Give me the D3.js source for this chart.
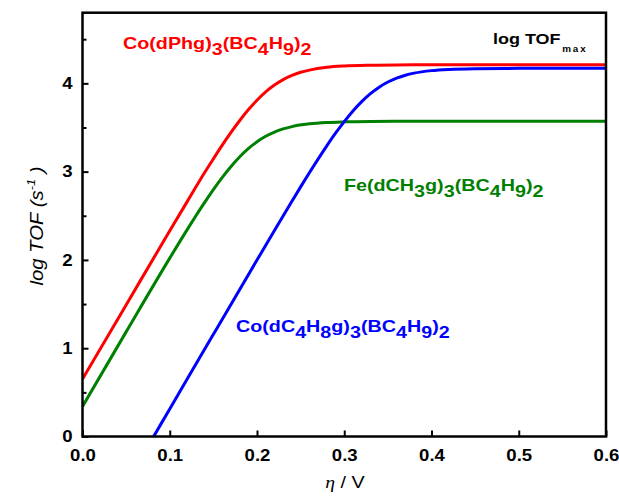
<!DOCTYPE html>
<html>
<head>
<meta charset="utf-8">
<script src="https://cdn.jsdelivr.net/npm/d3@7"></script>
<style>
  html, body { margin: 0; padding: 0; background: #fff; }
  svg { display: block; }
  text { font-family: "Liberation Sans", Arial, sans-serif; }
</style>
</head>
<body>
<svg id="chart" width="619" height="499"></svg>
<script>
// ---- data ----
const xTicks = [0.0, 0.1, 0.2, 0.3, 0.4, 0.5, 0.6];
const yTicks = [0, 1, 2, 3, 4];
const yMinorTicks = [0.5, 1.5, 2.5, 3.5, 4.5];

const redEta  = [0.00, 0.05, 0.10, 0.12, 0.14, 0.15, 0.16, 0.17, 0.18, 0.19, 0.20, 0.21, 0.22, 0.23, 0.24, 0.25, 0.26, 0.28, 0.30, 0.33, 0.36, 0.40, 0.50, 0.60];
const redLog  = [0.65, 1.49, 2.33, 2.66, 2.99, 3.145, 3.297, 3.441, 3.576, 3.70, 3.809, 3.903, 3.98, 4.042, 4.089, 4.125, 4.150, 4.182, 4.197, 4.206, 4.209, 4.21, 4.21, 4.21];

const greenEta = [0.00, 0.05, 0.10, 0.12, 0.13, 0.14, 0.15, 0.16, 0.17, 0.18, 0.19, 0.20, 0.21, 0.22, 0.23, 0.24, 0.26, 0.28, 0.30, 0.33, 0.40, 0.50, 0.60];
const greenLog = [0.34, 1.185, 2.02, 2.343, 2.50, 2.652, 2.797, 2.932, 3.056, 3.166, 3.26, 3.338, 3.40, 3.448, 3.484, 3.51, 3.541, 3.557, 3.564, 3.568, 3.57, 3.57, 3.57];

const blueEta = [0.08, 0.10, 0.15, 0.20, 0.22, 0.24, 0.25, 0.26, 0.27, 0.28, 0.29, 0.30, 0.31, 0.32, 0.33, 0.34, 0.35, 0.36, 0.37, 0.38, 0.40, 0.42, 0.45, 0.50, 0.60];
const blueLog = [-0.026, 0.312, 1.157, 1.999, 2.334, 2.664, 2.827, 2.987, 3.142, 3.292, 3.435, 3.567, 3.6875, 3.793, 3.883, 3.957, 4.015, 4.059, 4.092, 4.1155, 4.144, 4.158, 4.166, 4.1695, 4.17];

const seriesNames = ["red", "green", "blue"];
const seriesColors = { red: "#ff0000", green: "#008000", blue: "#0000ff" };

// ---- layout ----
const SX = 1.16; // horizontal stretch of the text in the reference
const svg = d3.select("#chart");
const x = d3.scaleLinear().domain([0, 0.6]).range([82.5, 606]);
const y = d3.scaleLinear().domain([0, 4.8]).range([436.5, 12.7]);

svg.append("defs").append("clipPath").attr("id", "plotclip")
  .append("rect")
  .attr("x", x(0)).attr("y", y(4.8))
  .attr("width", x(0.6) - x(0)).attr("height", y(0) - y(4.8));

const line = d3.line()
  .x(d => x(d[0]))
  .y(d => y(d[1]))
  .curve(d3.curveMonotoneX);

const seriesData = {
  red: d3.zip(redEta, redLog),
  green: d3.zip(greenEta, greenLog),
  blue: d3.zip(blueEta, blueLog)
};

const plot = svg.append("g").attr("clip-path", "url(#plotclip)");
seriesNames.forEach(name => {
  plot.append("path")
    .datum(seriesData[name])
    .attr("fill", "none")
    .attr("stroke", seriesColors[name])
    .attr("stroke-width", 3)
    .attr("d", line);
});

// ---- axes ----
const xAxis = d3.axisBottom(x)
  .tickValues(xTicks)
  .tickFormat(d3.format(".1f"))
  .tickSizeInner(-6)
  .tickSizeOuter(0)
  .tickPadding(13);

const gx = svg.append("g")
  .attr("transform", `translate(0,${y(0)})`)
  .call(xAxis);

const yAxis = d3.axisLeft(y)
  .tickValues(yTicks)
  .tickFormat(d3.format("d"))
  .tickSizeInner(-6)
  .tickSizeOuter(0)
  .tickPadding(10);

const gy = svg.append("g")
  .attr("transform", `translate(${x(0)},0)`)
  .call(yAxis);

const yMinor = d3.axisLeft(y)
  .tickValues(yMinorTicks)
  .tickFormat("")
  .tickSizeInner(-4)
  .tickSizeOuter(0);

svg.append("g")
  .attr("transform", `translate(${x(0)},0)`)
  .call(yMinor)
  .select(".domain").remove();

[gx, gy].forEach(g => {
  g.select(".domain").remove();
  g.selectAll(".tick text")
    .attr("fill", "#000")
    .style("font-family", '"Liberation Sans", Arial, sans-serif')
    .style("font-size", "16px")
    .style("font-weight", "bold");
});
gx.selectAll(".tick text").attr("transform", `scale(${SX},1)`);
gy.selectAll(".tick text")
  .attr("x", 0)
  .attr("transform", `translate(-10,0) scale(${SX},1)`);
svg.selectAll(".tick line").attr("stroke", "#000").attr("stroke-width", 2);

// frame
svg.append("rect")
  .attr("x", x(0)).attr("y", y(4.8))
  .attr("width", x(0.6) - x(0)).attr("height", y(0) - y(4.8))
  .attr("fill", "none").attr("stroke", "#000").attr("stroke-width", 2.5);

// ---- axis titles ----
const xt = svg.append("text")
  .attr("transform", `translate(345,488) scale(${SX},1)`)
  .attr("text-anchor", "middle")
  .style("font-size", "17px");
xt.append("tspan").text("η").style("font-family", '"Liberation Serif", serif').style("font-style", "italic");
xt.append("tspan").text(" / V");

const yt = svg.append("text")
  .attr("transform", `translate(43,226) rotate(-90) scale(${SX},1)`)
  .attr("text-anchor", "middle")
  .style("font-size", "17.5px")
  .style("font-style", "italic");
yt.append("tspan").text("log TOF (s");
yt.append("tspan").text("-1").attr("dy", -8).style("font-size", "11px");
yt.append("tspan").text(" )").attr("dy", 8);

// ---- annotations ----
function chemLabel(xp, yp, parts, color) {
  const t = svg.append("text")
    .attr("transform", `translate(${xp},${yp}) scale(${SX},1)`)
    .attr("fill", color)
    .style("font-size", "17px")
    .style("font-weight", "bold");
  let sub = false;
  parts.forEach(p => {
    const isSub = p[1];
    const ts = t.append("tspan").text(p[0]);
    if (isSub && !sub) ts.attr("dy", 6);
    else if (!isSub && sub) ts.attr("dy", -6);
    sub = isSub;
  });
}

chemLabel(123, 48.5, [["Co(dPhg)", 0], ["3", 1], ["(BC", 0], ["4", 1], ["H", 0], ["9", 1], [")", 0], ["2", 1]], seriesColors.red);
chemLabel(344, 191, [["Fe(dCH", 0], ["3", 1], ["g)", 0], ["3", 1], ["(BC", 0], ["4", 1], ["H", 0], ["9", 1], [")", 0], ["2", 1]], seriesColors.green);
chemLabel(236, 332, [["Co(dC", 0], ["4", 1], ["H", 0], ["8", 1], ["g)", 0], ["3", 1], ["(BC", 0], ["4", 1], ["H", 0], ["9", 1], [")", 0], ["2", 1]], seriesColors.blue);

const lt = svg.append("text")
  .attr("transform", `translate(493,43.5) scale(${SX},1)`)
  .attr("fill", "#000")
  .style("font-size", "15.5px")
  .style("font-weight", "bold");
lt.append("tspan").text("log TOF");
lt.append("tspan").text("max").attr("dy", 8.5).attr("dx", 1.5).style("font-size", "8.5px").style("letter-spacing", "1.6px");
</script>
</body>
</html>
